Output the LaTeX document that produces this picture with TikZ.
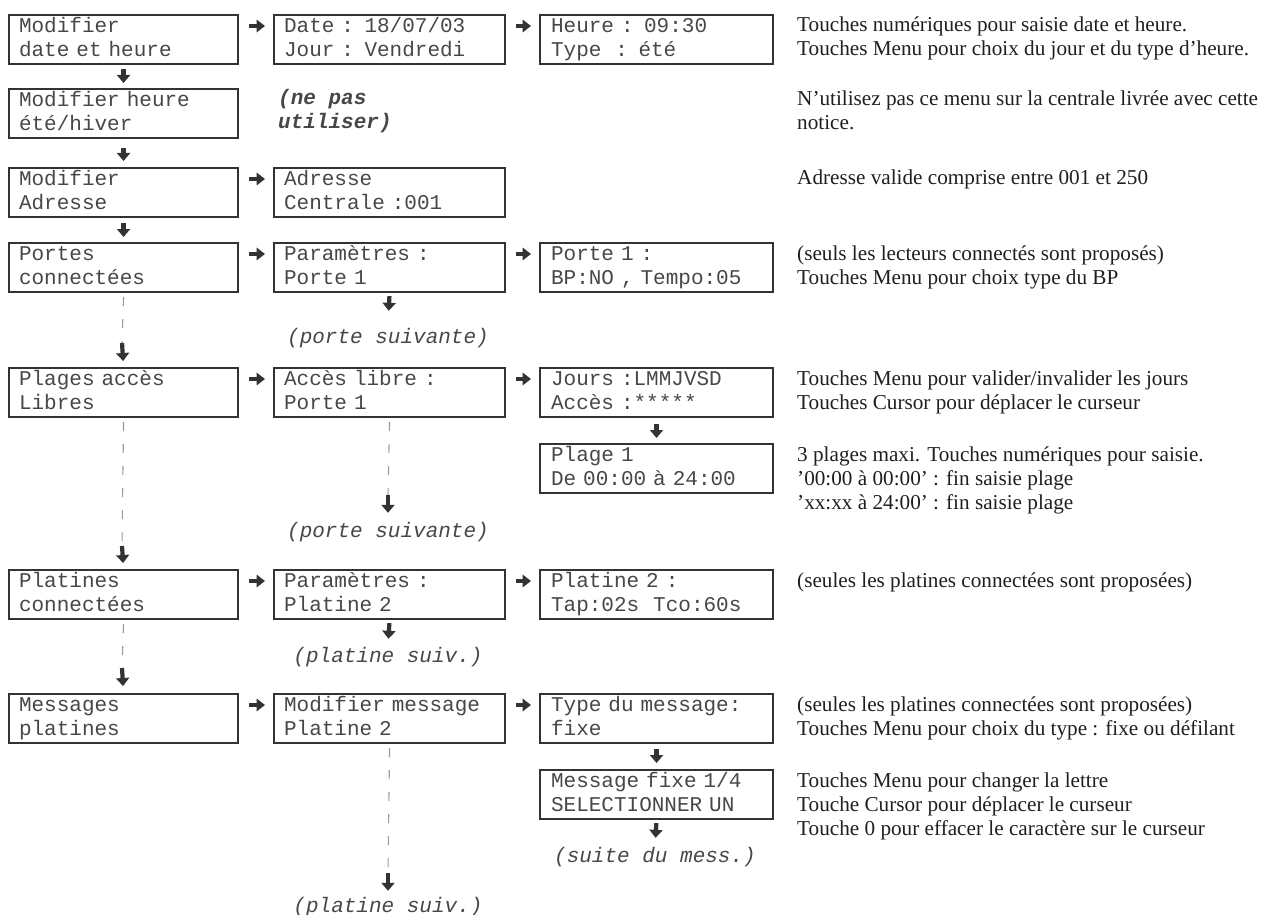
\documentclass[tikz,border=0pt]{standalone}
\usepackage{fontspec}
\setmainfont{Liberation Serif}
\setmonofont{Liberation Mono}
\usetikzlibrary{arrows.meta,calc}
\definecolor{ink}{HTML}{333333}
\definecolor{txt}{HTML}{474747}
\definecolor{dashc}{HTML}{9A9A9A}
\newcommand{\monof}{\fontsize{21}{24}\selectfont\ttfamily}
\newcommand{\seriff}{\fontsize{21.2}{24}\selectfont\rmfamily}
\newcommand{\bx}[2]{\strut #1\\\strut #2}
\tikzset{
  box/.style={draw=ink, line width=2.1pt, anchor=north west, inner sep=0pt,
    minimum height=49pt, align=left, font=\monof, text=txt},
  c1box/.style={box, minimum width=229pt, text width=209pt},
  c2box/.style={box, minimum width=231pt, text width=211pt},
  c3box/.style={box, minimum width=233pt, text width=211pt},
  note/.style={anchor=base west, inner sep=0pt, font=\seriff, text=black!88},
  sub/.style={anchor=base, inner sep=0pt, text height=15pt, text depth=4pt, font=\monof\itshape, text=txt},
  nep/.style={anchor=base west, inner sep=0pt, font=\monof\bfseries\itshape, text=txt},
  darr/.style={draw=ink, line width=4.2pt, -{Triangle[width=13pt,length=8pt]}},
  rarr/.style={draw=ink, line width=4.2pt, -{Triangle[width=12.5pt,length=8.5pt]}},
  dline/.style={draw=dashc, line width=1.1pt, dash pattern=on 9pt off 13pt},
}
\begin{document}
\begin{tikzpicture}[x=1pt,y=-1pt]
\useasboundingbox (0,0) rectangle (1262,915);
% column 1
\node[c1box] (b11) at (8,14) {\bx{Modifier}{date et heure}};
\node[c1box] (b21) at (8,88) {\bx{Modifier heure}{été/hiver}};
\node[c1box] (b31) at (8,167) {\bx{Modifier}{Adresse}};
\node[c1box] (b41) at (8,242) {\bx{Portes}{connectées}};
\node[c1box] (b51) at (8,367) {\bx{Plages accès}{Libres}};
\node[c1box] (b61) at (8,569) {\bx{Platines}{connectées}};
\node[c1box] (b71) at (8,693) {\bx{Messages}{platines}};
% column 2
\node[c2box] (b12) at (273,14) {\bx{Date : 18/07/03}{Jour : Vendredi}};
\node[nep] (nepas1) at (278,105) {(ne pas};
\node[nep] (nepas2) at (278,129) {utiliser)};
\node[c2box] (b32) at (273,167) {\bx{Adresse}{Centrale :001}};
\node[c2box] (b42) at (273,242) {\bx{Paramètres :}{Porte 1}};
\node[c2box] (b52) at (273,367) {\bx{Accès libre :}{Porte 1}};
\node[c2box] (b62) at (273,569) {\bx{Paramètres :}{Platine 2}};
\node[c2box] (b72) at (273,693) {\bx{Modifier message}{Platine 2}};
% column 3
\node[c3box] (b13) at (539,14) {\bx{Heure : 09:30}{Type~~: été}};
\node[c3box] (b43) at (539,242) {\bx{Porte 1 :}{BP:NO , Tempo:05}};
\node[c3box] (b53) at (539,367) {\bx{Jours :LMMJVSD}{Accès :*****}};
\node[c3box] (b54) at (539,443) {\bx{Plage 1}{De 00:00 à 24:00}};
\node[c3box] (b63) at (539,569) {\bx{Platine 2 :}{Tap:02s~~Tco:60s}};
\node[c3box] (b73) at (539,693) {\bx{Type du message:}{fixe}};
\node[c3box] (b74) at (539,769) {\bx{Message fixe 1/4}{SELECTIONNER UN}};
% sub labels
\node[sub] (s42) at (388,343) {(porte suivante)};
\node[sub] (s52) at (388,537) {(porte suivante)};
\node[sub] (s62) at (388,662) {(platine suiv.)};
\node[sub] (s72) at (388,912) {(platine suiv.)};
\node[sub] (s74) at (655,862) {(suite du mess.)};
% notes
\node[note] (n1a) at (797,32) {Touches numériques pour saisie date et heure.};
\node[note] (n1b) at (797,56) {Touches Menu pour choix du jour et du type d’heure.};
\node[note] (n2a) at (797,106) {N’utilisez pas ce menu sur la centrale livrée avec cette};
\node[note] (n2b) at (797,130) {notice.};
\node[note] (n3a) at (797,185) {Adresse valide comprise entre 001 et 250};
\node[note] (n4a) at (797,260) {(seuls les lecteurs connectés sont proposés)};
\node[note] (n4b) at (797,284) {Touches Menu pour choix type du BP};
\node[note] (n5a) at (797,385) {Touches Menu pour valider/invalider les jours};
\node[note] (n5b) at (797,409) {Touches Cursor pour déplacer le curseur};
\node[note] (n6a) at (797,461) {3 plages maxi. Touches numériques pour saisie.};
\node[note] (n6b) at (797,485) {’00:00 à 00:00’ : fin saisie plage};
\node[note] (n6c) at (797,509) {’xx:xx à 24:00’ : fin saisie plage};
\node[note] (n7a) at (797,587) {(seules les platines connectées sont proposées)};
\node[note] (n8a) at (797,711) {(seules les platines connectées sont proposées)};
\node[note] (n8b) at (797,735) {Touches Menu pour choix du type : fixe ou défilant};
\node[note] (n9a) at (797,787) {Touches Menu pour changer la lettre};
\node[note] (n9b) at (797,811) {Touche Cursor pour déplacer le curseur};
\node[note] (n9c) at (797,835) {Touche 0 pour effacer le caractère sur le curseur};
% right arrows
\foreach \a/\b in {b11/b12,b31/b32,b41/b42,b51/b52,b61/b62,b71/b72,b12/b13,b42/b43,b52/b53,b62/b63,b72/b73}{
  \draw[rarr] ([xshift=10pt,yshift=-12pt]\a.north east) -- ([xshift=-8pt,yshift=-12pt]\b.north west);
}
% solid down arrows
\draw[darr, shorten <=4pt, shorten >=5pt] (b11.south) -- (b21.north);
\draw[darr, shorten <=9pt, shorten >=6pt] (b21.south) -- (b31.north);
\draw[darr, shorten <=5pt, shorten >=5pt] (b31.south) -- (b41.north);
\draw[darr, shorten <=6pt, shorten >=5pt] (b53.south) -- (b54.north);
\draw[darr, shorten <=5pt, shorten >=6pt] (b73.south) -- (b74.north);
\draw[darr, shorten <=3pt, shorten >=17pt] (b42.south) -- (s42.north);
\draw[darr, shorten <=3pt, shorten >=8pt] (b62.south) -- (s62.north);
\draw[darr, shorten <=3pt, shorten >=9pt] (b74.south) -- (s74.north);
% dashed then arrow
\coordinate (k1) at (122,343);
\coordinate (k2) at (122,546);
\coordinate (k3) at (122,668);
\coordinate (k4) at (388,495);
\coordinate (k5) at (388,873);
\draw[dline] ([yshift=-4pt]b41.south) -- (k1);
\draw[darr, shorten >=6pt] (k1) -- (b51.north);
\draw[dline] ([yshift=-4pt]b51.south) -- (k2);
\draw[darr, shorten >=6pt] (k2) -- (b61.north);
\draw[dline] ([yshift=-4pt]b61.south) -- (k3);
\draw[darr, shorten >=7pt] (k3) -- (b71.north);
\draw[dline] ([yshift=-4pt]b52.south) -- (k4);
\draw[darr, shorten >=9pt] (k4) -- (s52.north);
\draw[dline] ([yshift=-4pt]b72.south) -- (k5);
\draw[darr, shorten >=6pt] (k5) -- (s72.north);
\end{tikzpicture}
\end{document}
